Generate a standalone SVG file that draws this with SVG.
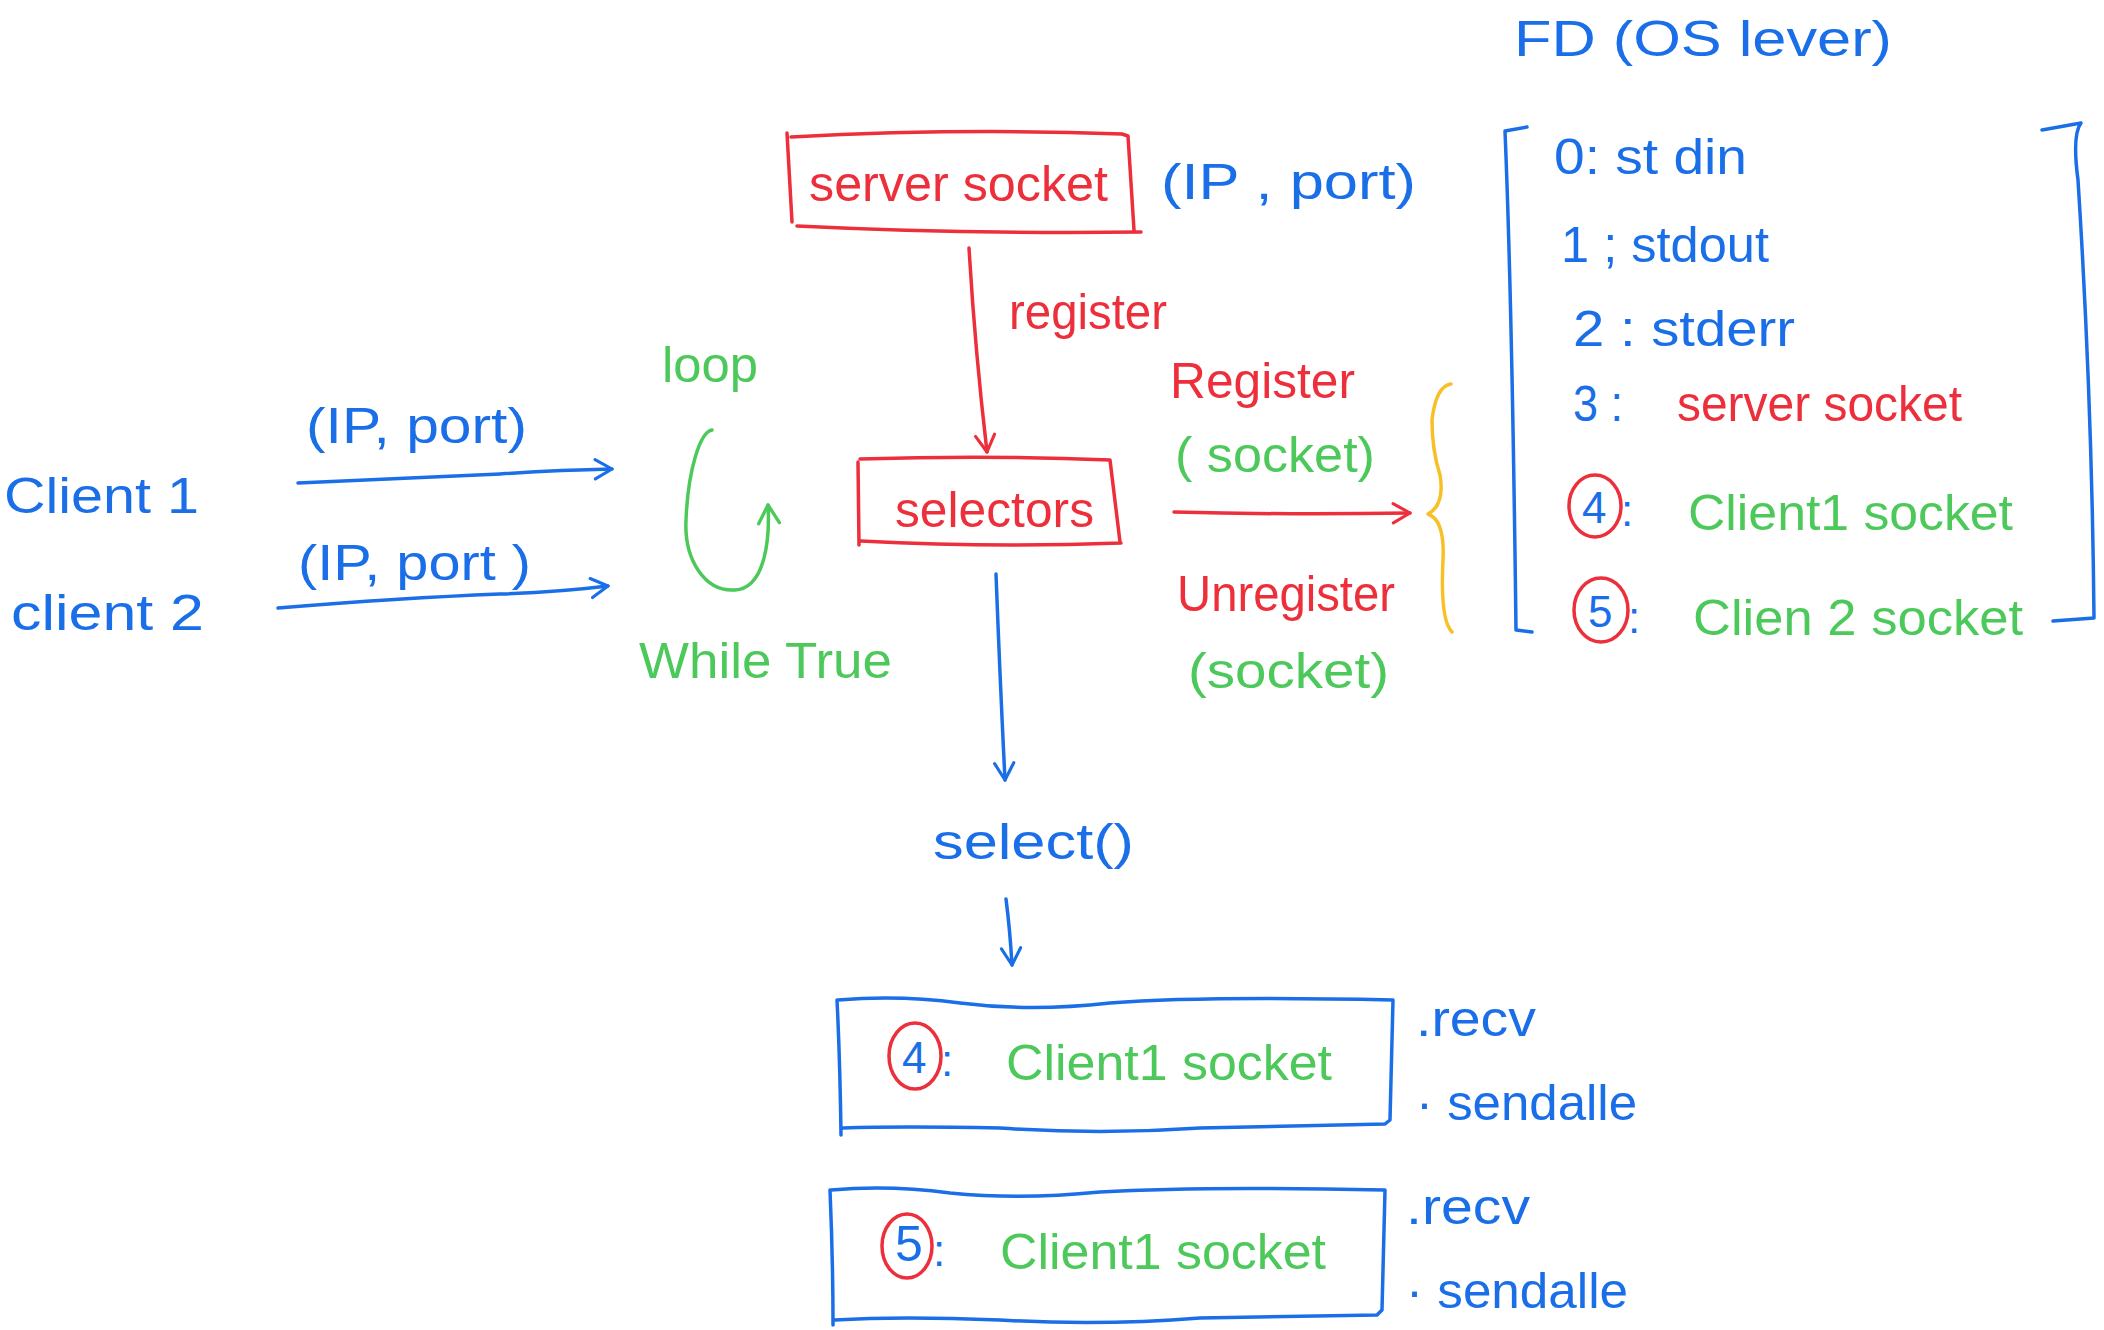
<svg xmlns="http://www.w3.org/2000/svg" width="2104" height="1330" viewBox="0 0 2104 1330">
<style>
  .s { fill: none; stroke-width: 3.5; stroke-linecap: round; stroke-linejoin: round; }
  .b { stroke: #1a6fe8; }
  .r { stroke: #ec2f3b; }
  .g { stroke: #4cc95a; }
  .y { stroke: #f6c026; }
  text { font-family: "Liberation Sans", "DejaVu Sans", sans-serif; font-size: 50px; }
  .n { font-size: 44px; }
  .tb { fill: #1a6fe8; }
  .tr { fill: #ec2f3b; }
  .tg { fill: #4cc95a; }
</style>
<defs>
  <marker id="ab" viewBox="0 0 20 20" refX="17" refY="10" markerWidth="24" markerHeight="24" markerUnits="userSpaceOnUse" orient="auto">
    <path d="M3,2 L17,10 L3,18" fill="none" stroke="#1a6fe8" stroke-width="2.6" stroke-linecap="round" stroke-linejoin="round"/>
  </marker>
  <marker id="ar" viewBox="0 0 20 20" refX="17" refY="10" markerWidth="24" markerHeight="24" markerUnits="userSpaceOnUse" orient="auto">
    <path d="M3,2 L17,10 L3,18" fill="none" stroke="#ec2f3b" stroke-width="2.6" stroke-linecap="round" stroke-linejoin="round"/>
  </marker>
  <marker id="ag" viewBox="0 0 20 20" refX="17" refY="10" markerWidth="26" markerHeight="26" markerUnits="userSpaceOnUse" orient="auto">
    <path d="M3,2 L17,10 L3,18" fill="none" stroke="#4cc95a" stroke-width="2.6" stroke-linecap="round" stroke-linejoin="round"/>
  </marker>
</defs>
<rect width="2104" height="1330" fill="#ffffff"/>

<!-- Clients -->
<g id="client1">
  <text class="tb" x="4" y="513" textLength="195" lengthAdjust="spacingAndGlyphs">Client 1</text>
</g>
<g id="client2">
  <text class="tb" x="11" y="630" textLength="193" lengthAdjust="spacingAndGlyphs">client 2</text>
</g>

<!-- loop -->
<g id="loop">
  <text class="tg" x="662" y="382" textLength="96" lengthAdjust="spacingAndGlyphs">loop</text>
  <path class="s g" d="M712,430 C700,432 688,470 686,520 C684,560 705,592 735,590 C765,588 770,540 768,505" marker-end="url(#ag)"/>
  <text class="tg" x="639" y="678" textLength="253" lengthAdjust="spacingAndGlyphs">While True</text>
</g>

<!-- server socket -->
<g id="server-socket">
  <path class="s r" d="M787,133 L792,222 M791,137 Q960,128 1122,134 L1128,136 L1134,230 M797,226 Q960,234 1141,232"/>
  <text class="tr" x="809" y="201" textLength="299" lengthAdjust="spacingAndGlyphs">server socket</text>
  <text class="tb" x="1161" y="199" textLength="255" lengthAdjust="spacingAndGlyphs">(IP , port)</text>
</g>

<!-- selectors -->
<g id="selectors">
  <path class="s r" d="M858,462 L859,545 M860,459 Q990,455 1110,460 L1120,542 M861,541 Q990,548 1121,543"/>
  <text class="tr" x="895" y="527" textLength="199" lengthAdjust="spacingAndGlyphs">selectors</text>
</g>

<!-- select() -->
<g id="select">
  <text class="tb" x="933" y="859" textLength="201" lengthAdjust="spacingAndGlyphs">select()</text>
</g>

<!-- FD table -->
<g id="fd-table">
  <text class="tb" x="1514" y="56" font-size="54" textLength="378" lengthAdjust="spacingAndGlyphs">FD (OS lever)</text>
  <path class="s b" d="M1527,127 L1505,131 Q1512,300 1516,630 L1532,632"/>
  <path class="s b" d="M2042,130 L2081,123 Q2072,135 2078,180 Q2092,400 2094,618 L2053,621"/>
  <text class="tb" x="1554" y="174" textLength="193" lengthAdjust="spacingAndGlyphs">0: st din</text>
  <text class="tb" x="1561" y="262" textLength="208" lengthAdjust="spacingAndGlyphs">1 ;  stdout</text>
  <text class="tb" x="1573" y="346" textLength="222" lengthAdjust="spacingAndGlyphs">2 :  stderr</text>
  <text class="tb" x="1573" y="421" textLength="50" lengthAdjust="spacingAndGlyphs">3 :</text>
  <text class="tr" x="1677" y="421" textLength="285" lengthAdjust="spacingAndGlyphs">server  socket</text>
  <ellipse class="s r" cx="1595" cy="506" rx="26" ry="31"/>
  <text class="tb n" x="1582" y="523">4</text>
  <text class="tb n" x="1621" y="526">:</text>
  <text class="tg" x="1688" y="530" textLength="325" lengthAdjust="spacingAndGlyphs">Client1  socket</text>
  <ellipse class="s r" cx="1601" cy="610" rx="27" ry="32"/>
  <text class="tb n" x="1588" y="627">5</text>
  <text class="tb n" x="1628" y="633">:</text>
  <text class="tg" x="1693" y="635" textLength="330" lengthAdjust="spacingAndGlyphs">Clien 2  socket</text>
</g>

<!-- client socket boxes -->
<g id="client1-socket">
  <path class="s b" d="M837,1000 Q840,1060 841,1135 M838,1000 Q900,995 960,1003 Q1030,1012 1110,1003 Q1200,996 1393,1000 L1390,1120 L1385,1124 Q1300,1126 1200,1128 Q1100,1135 1000,1128 Q900,1126 843,1128"/>
  <ellipse class="s r" cx="915" cy="1056" rx="26" ry="33"/>
  <text class="tb n" x="902" y="1073">4</text>
  <text class="tb n" x="941" y="1076">:</text>
  <text class="tg" x="1006" y="1080" textLength="326" lengthAdjust="spacingAndGlyphs">Client1  socket</text>
  <text class="tb" x="1416" y="1036" textLength="120" lengthAdjust="spacingAndGlyphs">.recv</text>
  <text class="tb" x="1416" y="1120" textLength="221" lengthAdjust="spacingAndGlyphs">· sendalle</text>
</g>
<g id="client2-socket">
  <path class="s b" d="M830,1190 Q833,1260 833,1325 M831,1190 Q890,1185 950,1193 Q1020,1200 1100,1192 Q1200,1186 1385,1190 L1382,1310 L1377,1315 Q1300,1316 1200,1318 Q1100,1326 1000,1320 Q900,1316 835,1320"/>
  <ellipse class="s r" cx="907" cy="1246" rx="25" ry="32"/>
  <text class="tb" x="895" y="1261" font-size="38">5</text>
  <text class="tb n" x="933" y="1266">:</text>
  <text class="tg" x="1000" y="1269" textLength="326" lengthAdjust="spacingAndGlyphs">Client1  socket</text>
  <text class="tb" x="1406" y="1224" textLength="124" lengthAdjust="spacingAndGlyphs">.recv</text>
  <text class="tb" x="1406" y="1308" textLength="222" lengthAdjust="spacingAndGlyphs">· sendalle</text>
</g>

<!-- connectors -->
<g id="connectors">
  <path class="s b" d="M298,483 Q420,478 500,474 Q560,470 612,469" marker-end="url(#ab)"/>
  <text class="tb" x="306" y="443" textLength="221" lengthAdjust="spacingAndGlyphs">(IP, port)</text>
  <path class="s b" d="M278,608 Q400,598 500,594 Q560,592 608,586" marker-end="url(#ab)"/>
  <text class="tb" x="298" y="580" textLength="233" lengthAdjust="spacingAndGlyphs">(IP, port )</text>
  <path class="s r" d="M969,248 Q975,350 987,452" marker-end="url(#ar)"/>
  <text class="tr" x="1009" y="329" textLength="158" lengthAdjust="spacingAndGlyphs">register</text>
  <path class="s r" d="M1174,512 Q1290,515 1410,513" marker-end="url(#ar)"/>
  <text class="tr" x="1170" y="398" textLength="185" lengthAdjust="spacingAndGlyphs">Register</text>
  <text class="tg" x="1175" y="472" textLength="200" lengthAdjust="spacingAndGlyphs">( socket)</text>
  <text class="tr" x="1177" y="611" textLength="218" lengthAdjust="spacingAndGlyphs">Unregister</text>
  <text class="tg" x="1188" y="688" textLength="201" lengthAdjust="spacingAndGlyphs">(socket)</text>
  <path class="s y" d="M1451,384 Q1436,386 1432,420 Q1432,450 1440,475 Q1445,505 1428,514 Q1445,520 1443,560 Q1440,620 1452,632"/>
  <path class="s b" d="M996,574 Q1000,680 1005,780" marker-end="url(#ab)"/>
  <path class="s b" d="M1006,899 Q1010,930 1012,965" marker-end="url(#ab)"/>
</g>
</svg>
